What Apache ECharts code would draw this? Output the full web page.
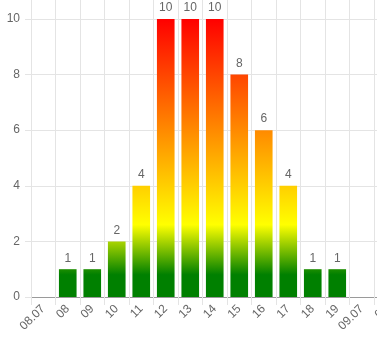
<!DOCTYPE html>
<html lang="en">
<head>
    <meta charset="UTF-8">
    <title>Hourly bars</title>
    <style>
        html, body { margin: 0; padding: 0; background: #fff; overflow: hidden; }
        /* the original chart is wider than the window and gets clipped on the right */
        #chart { width: 400px; height: 338px; }
    </style>
    <script src="https://cdn.jsdelivr.net/npm/echarts@6/dist/echarts.min.js"></script>
</head>
<body>
    <div id="chart"></div>
    <script>
        // data
        var categories = ['08.07', '08', '09', '10', '11', '12', '13', '14', '15', '16', '17', '18', '19', '09.07', '08'];
        var values = [null, 1, 1, 2, 4, 10, 10, 10, 8, 6, 4, 1, 1, null, null];
        var yTicks = [0, 2, 4, 6, 8, 10];

        // colour by value: green low, yellow middle, red high
        var colourStops = [
            [0, '#008000'],
            [0.8, '#008000'],
            [2.6, '#ffff00'],
            [10, '#ff0000']
        ];

        var font = '"Liberation Sans", Arial, sans-serif';
        var chart = echarts.init(document.getElementById('chart'));

        var option = {
            animation: false,
            grid: { left: 31, right: 1.5, top: 0, bottom: 41, containLabel: false },
            xAxis: {
                type: 'category',
                data: categories,
                boundaryGap: true,
                axisLine: { lineStyle: { color: '#9a9a9a', width: 1 } },
                axisTick: { show: true, length: 8, lineStyle: { color: '#e4e4e4' } },
                splitLine: { show: true, lineStyle: { color: '#e4e4e4' } },
                axisLabel: {
                    interval: 0, rotate: 45, margin: 10,
                    color: '#666', fontSize: 12, fontFamily: font
                }
            },
            yAxis: {
                type: 'value',
                min: yTicks[0],
                max: 10.68,
                interval: 2,
                axisLine: { show: true, lineStyle: { color: '#e4e4e4' } },
                axisTick: { show: true, length: 6, lineStyle: { color: '#e4e4e4' } },
                splitLine: { show: true, showMaxLine: false, lineStyle: { color: '#e4e4e4' } },
                axisLabel: {
                    showMaxLabel: false, margin: 11,
                    color: '#666', fontSize: 12, fontFamily: font
                }
            },
            series: [{
                type: 'bar',
                data: values,
                barWidth: '72%',
                label: {
                    show: true, position: 'top', distance: 5,
                    color: '#666', fontSize: 12, fontFamily: font
                },
                itemStyle: { color: '#008000' }
            }]
        };
        chart.setOption(option);

        // gradient fixed to the value axis, so every bar shares it
        var yLow = chart.convertToPixel({ yAxisIndex: 0 }, 0);
        var yHigh = chart.convertToPixel({ yAxisIndex: 0 }, 10);
        var stops = colourStops.map(function (s) {
            return { offset: s[0] / 10, color: s[1] };
        });
        chart.setOption({
            series: [{
                itemStyle: { color: new echarts.graphic.LinearGradient(0, yLow, 0, yHigh, stops, true) }
            }]
        });
    </script>
</body>
</html>
